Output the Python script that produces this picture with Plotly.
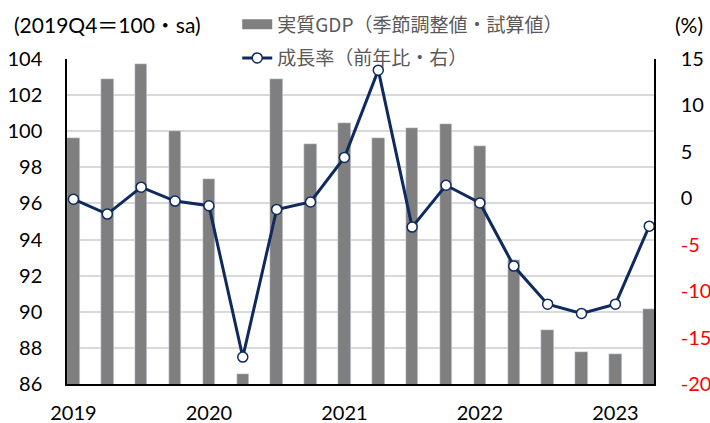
import plotly.graph_objects as go

# --- DATOS ---
QUARTERS = list(range(18))  # 2019Q1 .. 2023Q2
GDP = [99.6, 102.9, 103.7, 100.0, 97.35, 86.55, 102.9, 99.3, 100.45,
       99.6, 100.2, 100.4, 99.2, 92.85, 89.0, 87.75, 87.65, 90.15]
GROWTH = [-0.1, -1.7, 1.2, -0.3, -0.8, -17.1, -1.2, -0.4, 4.4,
          13.8, -3.1, 1.4, -0.5, -7.3, -11.4, -12.4, -11.4, -3.0]
YEAR_TICKS = [0, 4, 8, 12, 16]
YEAR_LABELS = ['2019', '2020', '2021', '2022', '2023']
RIGHT_TICKS = [-20, -15, -10, -5, 0, 5, 10, 15]

LAT = 'Lato, "Noto Sans CJK JP", sans-serif'
JP = '"Noto Sans CJK JP", Lato, sans-serif'
GRIS = '#7F7F7F'
AZUL = '#0E2A5E'

right_text = [f'<span style="color:#FF0000">{v}</span>' if v < 0 else str(v)
              for v in RIGHT_TICKS]

fig = go.Figure()
fig.add_trace(go.Bar(
    x=QUARTERS, y=GDP, name='実質GDP（季節調整値・試算値）',
    marker_color=GRIS, width=0.37, showlegend=False,
))
# entrada de leyenda con rectángulo ancho (como en Excel)
fig.add_trace(go.Scatter(
    x=[None], y=[None], name='実質GDP（季節調整値・試算値）', mode='lines',
    line=dict(color=GRIS, width=12), legendgroup='a',
))
fig.add_trace(go.Scatter(
    x=QUARTERS, y=GROWTH, name='成長率（前年比・右）', yaxis='y2',
    mode='lines+markers', legendgroup='b',
    line=dict(color=AZUL, width=3),
    marker=dict(size=10, color='white', line=dict(color=AZUL, width=1.5)),
))

fig.update_layout(
    width=710, height=423,
    margin=dict(l=67, r=56, t=59, b=39, autoexpand=False),
    paper_bgcolor='white', plot_bgcolor='white',
    font=dict(family=LAT, size=20, color='black'),
    bargap=0,
    xaxis=dict(
        range=[-0.19, 17.14], tickvals=YEAR_TICKS, ticktext=YEAR_LABELS,
        showgrid=False, showline=True, linecolor='black', linewidth=1.5,
        ticks='', ticklabelstandoff=10, zeroline=False, automargin=False,
    ),
    yaxis=dict(
        range=[86, 104], dtick=2, showgrid=True, gridcolor='#D9D9D9',
        gridwidth=1.5, showline=True, linecolor='black', linewidth=1.5,
        ticks='', ticklabelstandoff=19, zeroline=False, automargin=False,
    ),
    yaxis2=dict(
        overlaying='y', side='right', range=[-20, 15],
        tickvals=RIGHT_TICKS, ticktext=right_text, showgrid=False,
        showline=True, linecolor='black', linewidth=1.5,
        ticks='', ticklabelstandoff=21, zeroline=False, automargin=False,
    ),
    legend=dict(
        x=0.29, y=1.165, xanchor='left', yanchor='top',
        bgcolor='rgba(0,0,0,0)', font=dict(family=JP, size=19, color='#595959'),
        tracegroupgap=6, traceorder='grouped',
    ),
    showlegend=True,
)

fig.add_annotation(text='(2019Q4＝100・sa)', xref='paper', yref='paper',
                   x=-0.094, y=1.105, xanchor='left', yanchor='middle',
                   showarrow=False, font=dict(family=LAT, size=21))
fig.add_annotation(text='(%)', xref='paper', yref='paper',
                   x=1.033, y=1.105, xanchor='left', yanchor='middle',
                   showarrow=False, font=dict(family=LAT, size=21))

# sin margen del body para que la figura ocupe toda la ventana
fig.write_html("out.html", config={'displayModeBar': False},
               post_script="document.body.style.margin='0';document.body.style.overflow='hidden';")
